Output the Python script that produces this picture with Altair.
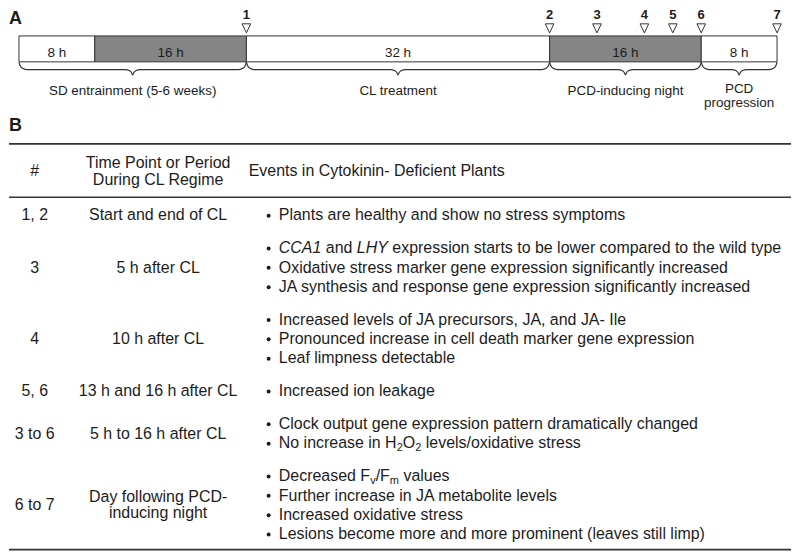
import altair as alt
import pandas as pd

# ---------------- data: panel A (timeline) ----------------
seg_hours = [8, 16, 32, 16, 8]
seg_kind = ["light", "dark", "light", "dark", "light"]
seg_labels = ["8 h", "16 h", "32 h", "16 h", "8 h"]

tp_labels = ["1", "2", "3", "4", "5", "6", "7"]
tp_hours = [24, 56, 61, 66, 69, 72, 80]

period_lines = [["SD entrainment (5-6 weeks)"], ["CL treatment"],
                ["PCD-inducing night"], ["PCD", "progression"]]
period_start = [0, 24, 56, 72]
period_end = [24, 56, 72, 80]

# ---------------- data: panel B (table) ----------------
head_id = "#"
head_period = ["Time Point or Period", "During CL Regime"]
head_events = "Events in Cytokinin- Deficient Plants"

row_ids = ["1, 2", "3", "4", "5, 6", "3 to 6", "6 to 7"]
row_periods = [["Start and end of CL"], ["5 h after CL"], ["10 h after CL"],
               ["13 h and 16 h after CL"], ["5 h to 16 h after CL"],
               ["Day following PCD-", "inducing night"]]
# each event line is a list of (text, style) ; n normal, i italic, s subscript
row_events = [
    [[("Plants are healthy and show no stress symptoms", "n")]],
    [[("CCA1", "i"), (" and ", "n"), ("LHY", "i"),
      (" expression starts to be lower compared to the wild type", "n")],
     [("Oxidative stress marker gene expression significantly increased", "n")],
     [("JA synthesis and response gene expression significantly increased", "n")]],
    [[("Increased levels of JA precursors, JA, and JA- Ile", "n")],
     [("Pronounced increase in cell death marker gene expression", "n")],
     [("Leaf limpness detectable", "n")]],
    [[("Increased ion leakage", "n")]],
    [[("Clock output gene expression pattern dramatically changed", "n")],
     [("No increase in H", "n"), ("2", "s"), ("O", "n"), ("2", "s"),
      (" levels/oxidative stress", "n")]],
    [[("Decreased F", "n"), ("v", "s"), ("/F", "n"), ("m", "s"), (" values", "n")],
     [("Further increase in JA metabolite levels", "n")],
     [("Increased oxidative stress", "n")],
     [("Lesions become more and more prominent (leaves still limp)", "n")]],
]

# ---------------- style / layout ----------------
FONT = "Liberation Sans"
INK = "#1c1c1c"
LINE = "#333333"
DARK = "#858585"
FS = 16          # table font size
FS_SUB = 11
FS_A = 13.5      # timeline font size

PAGE_L, PAGE_R = 8, 792
PX_PER_H = 9.5
X0 = 18
TOP_H = 100
BOT_TOP = 8 + TOP_H
BOT_H = 442

hx = alt.Scale(domain=[(PAGE_L - X0) / PX_PER_H, (PAGE_R - X0) / PX_PER_H], range=[0, PAGE_R - PAGE_L])
ty = alt.Scale(domain=[8, 8 + TOP_H], range=[0, TOP_H])
px = alt.Scale(domain=[PAGE_L, PAGE_R], range=[0, PAGE_R - PAGE_L])
by = alt.Scale(domain=[BOT_TOP, BOT_TOP + BOT_H], range=[0, BOT_H])

# Liberation Sans / Arial advance widths (1/1000 em)
WID = {' ': 278, 'a': 556, 'b': 556, 'c': 500, 'd': 556, 'e': 556, 'f': 278, 'g': 556,
       'h': 556, 'i': 222, 'j': 222, 'k': 500, 'l': 222, 'm': 833, 'n': 556, 'o': 556,
       'p': 556, 'q': 556, 'r': 333, 's': 500, 't': 278, 'u': 556, 'v': 500, 'w': 722,
       'x': 500, 'y': 500, 'z': 500, 'A': 667, 'B': 667, 'C': 722, 'D': 722, 'E': 667,
       'F': 611, 'G': 778, 'H': 722, 'I': 278, 'J': 500, 'K': 667, 'L': 556, 'M': 833,
       'N': 722, 'O': 778, 'P': 667, 'Q': 778, 'R': 722, 'S': 667, 'T': 611, 'U': 722,
       'V': 667, 'W': 944, 'X': 667, 'Y': 667, 'Z': 611, '/': 278, '-': 333, ',': 278,
       '.': 278, '(': 333, ')': 333}


def tw(s, fs):
    return sum(WID.get(c, 556) for c in s) * fs / 1000.0


# ---------------- panel A ----------------
starts = [sum(seg_hours[:k]) for k in range(len(seg_hours))]
seg_df = pd.DataFrame({
    "start": starts,
    "end": [s + h for s, h in zip(starts, seg_hours)],
    "kind": seg_kind,
    "label": seg_labels,
})
seg_df["mid"] = (seg_df["start"] + seg_df["end"]) / 2
seg_df["top"] = 33.3
seg_df["bot"] = 59.3
seg_df["ly"] = 54.0

tp_df = pd.DataFrame({"h": tp_hours, "label": tp_labels})
tp_df["ty"] = 25.5
tp_df["ny"] = 16.7

# braces
end_tpl = [(0, 59.5), (1.2, 63.2), (3.5, 65.8), (7.5, 67.0)]
tip_tpl = [(7.5, 67.0), (3.5, 68.0), (1.2, 70.0), (0, 72.5)]
brace_rows = []
for b, (a, e) in enumerate(zip(period_start, period_end)):
    c = (a + e) / 2
    pts = [(a + d / PX_PER_H, y) for d, y in end_tpl]
    pts += [(c - d / PX_PER_H, y) for d, y in tip_tpl]
    pts += [(c + d / PX_PER_H, y) for d, y in reversed(tip_tpl)][1:]
    pts += [(e - d / PX_PER_H, y) for d, y in reversed(end_tpl)]
    for i, (x, y) in enumerate(pts):
        brace_rows.append({"b": b, "i": i, "x": x, "y": y})
brace_df = pd.DataFrame(brace_rows)

plab_rows = []
for lines, a, e in zip(period_lines, period_start, period_end):
    if len(lines) == 1:
        ys = [92.5]
    else:
        ys = [91.0, 105.0]
    for t, y in zip(lines, ys):
        plab_rows.append({"x": (a + e) / 2, "y": y, "t": t})
plab_df = pd.DataFrame(plab_rows)

rects = alt.Chart(seg_df).mark_rect(stroke=LINE, strokeWidth=1).encode(
    x=alt.X("start:Q", scale=hx, axis=None), x2="end:Q",
    y=alt.Y("top:Q", scale=ty, axis=None), y2="bot:Q",
    fill=alt.Fill("kind:N", scale=alt.Scale(domain=["light", "dark"], range=["white", DARK]), legend=None),
)
seg_text = alt.Chart(seg_df).mark_text(font=FONT, fontSize=FS_A, color=INK, baseline="alphabetic").encode(
    x=alt.X("mid:Q", scale=hx, axis=None), y=alt.Y("ly:Q", scale=ty, axis=None), text="label:N")
tri = alt.Chart(tp_df).mark_point(shape="M-1,-1L1,-1L0,1.1Z", size=75, fill="white", fillOpacity=1,
                                  stroke=LINE, strokeWidth=1, opacity=1).encode(
    x=alt.X("h:Q", scale=hx, axis=None), y=alt.Y("ty:Q", scale=ty, axis=None))
nums = alt.Chart(tp_df).mark_text(font=FONT, fontSize=13, fontWeight="bold", color=INK, baseline="alphabetic").encode(
    x=alt.X("h:Q", scale=hx, axis=None), y=alt.Y("ny:Q", scale=ty, axis=None), text="label:N")
braces = alt.Chart(brace_df).mark_line(stroke=LINE, strokeWidth=1.2, interpolate="monotone").encode(
    x=alt.X("x:Q", scale=hx, axis=None), y=alt.Y("y:Q", scale=ty, axis=None),
    detail="b:N", order="i:Q")
plabs = alt.Chart(plab_df).mark_text(font=FONT, fontSize=FS_A, color=INK, baseline="alphabetic").encode(
    x=alt.X("x:Q", scale=hx, axis=None), y=alt.Y("y:Q", scale=ty, axis=None), text="t:N")
labA = alt.Chart(pd.DataFrame({"t": ["A"], "y": [21.3]})).mark_text(
    font=FONT, fontSize=18, fontWeight="bold", color=INK, align="left", baseline="alphabetic").encode(
    x=alt.value(0), y=alt.Y("y:Q", scale=ty, axis=None), text="t:N")

top = alt.layer(rects, braces, tri, nums, seg_text, plabs, labA).properties(width=PAGE_R - PAGE_L, height=TOP_H)

# ---------------- panel B ----------------
X_ID, X_PER, X_BUL, X_EV, X_HEAD_EV = 33.8, 157.5, 268.3, 278.5, 248.3
Y_FIRST, LH, GAP = 218.3, 19.4, 32.9

ctext, ltext, segs, bullets = [], [], [], []
# header
ctext.append({"x": X_ID, "y": 173.5, "t": head_id})
ctext.append({"x": X_PER, "y": 166.0, "t": head_period[0]})
ctext.append({"x": X_PER, "y": 182.5, "t": head_period[1]})
ltext.append({"x": X_HEAD_EV, "y": 173.5, "t": head_events})

y = Y_FIRST
for rid, per, evs in zip(row_ids, row_periods, row_events):
    ys = [y + k * LH for k in range(len(evs))]
    mid = sum(ys) / len(ys)
    ctext.append({"x": X_ID, "y": mid, "t": rid})
    if len(per) == 1:
        ctext.append({"x": X_PER, "y": mid, "t": per[0]})
    else:
        ctext.append({"x": X_PER, "y": mid - 8, "t": per[0]})
        ctext.append({"x": X_PER, "y": mid + 8, "t": per[1]})
    for line, yl in zip(evs, ys):
        bullets.append({"x": X_BUL, "y": yl - 4.8})
        xx = X_EV
        for text, st in line:
            fs = FS_SUB if st == "s" else FS
            lead = len(text) - len(text.lstrip(" "))
            xx += tw(" " * lead, fs)
            body = text.strip(" ")
            segs.append({"x": xx, "y": yl, "t": body, "st": st})
            xx += tw(text[lead:], fs)
    y = ys[-1] + GAP

ctext_df = pd.DataFrame(ctext)
ltext_df = pd.DataFrame(ltext)
seg_tdf = pd.DataFrame(segs)
bul_df = pd.DataFrame(bullets)
rule_df = pd.DataFrame({"y": [141.5, 195.0, 548.3], "x1": [PAGE_L] * 3, "x2": [PAGE_R] * 3})

tbase = dict(font=FONT, fontSize=FS, color=INK, baseline="alphabetic")
t_center = alt.Chart(ctext_df).mark_text(align="center", **tbase).encode(
    x=alt.X("x:Q", scale=px, axis=None), y=alt.Y("y:Q", scale=by, axis=None), text="t:N")
t_left = alt.Chart(ltext_df).mark_text(align="left", **tbase).encode(
    x=alt.X("x:Q", scale=px, axis=None), y=alt.Y("y:Q", scale=by, axis=None), text="t:N")
t_norm = alt.Chart(seg_tdf).transform_filter("datum.st == 'n'").mark_text(align="left", **tbase).encode(
    x=alt.X("x:Q", scale=px, axis=None), y=alt.Y("y:Q", scale=by, axis=None), text="t:N")
t_ital = alt.Chart(seg_tdf).transform_filter("datum.st == 'i'").mark_text(align="left", fontStyle="italic", **tbase).encode(
    x=alt.X("x:Q", scale=px, axis=None), y=alt.Y("y:Q", scale=by, axis=None), text="t:N")
t_sub = alt.Chart(seg_tdf).transform_filter("datum.st == 's'").mark_text(
    align="left", font=FONT, fontSize=FS_SUB, color=INK, baseline="alphabetic", dy=2.5).encode(
    x=alt.X("x:Q", scale=px, axis=None), y=alt.Y("y:Q", scale=by, axis=None), text="t:N")
buls = alt.Chart(bul_df).mark_point(shape="circle", filled=True, size=16, color=INK, opacity=1).encode(
    x=alt.X("x:Q", scale=px, axis=None), y=alt.Y("y:Q", scale=by, axis=None))
rules = alt.Chart(rule_df).mark_rule(color=LINE, strokeWidth=1.6).encode(
    x=alt.X("x1:Q", scale=px, axis=None), x2="x2:Q", y=alt.Y("y:Q", scale=by, axis=None))
labB = alt.Chart(pd.DataFrame({"t": ["B"], "y": [128.3]})).mark_text(
    font=FONT, fontSize=18, fontWeight="bold", color=INK, align="left", baseline="alphabetic").encode(
    x=alt.value(0), y=alt.Y("y:Q", scale=by, axis=None), text="t:N")

bottom = alt.layer(rules, buls, t_center, t_left, t_norm, t_ital, t_sub, labB).properties(
    width=PAGE_R - PAGE_L, height=BOT_H)

chart = alt.vconcat(top, bottom, spacing=0).properties(padding=0, background="white").configure_view(stroke=None)
chart.save("out.html", embed_options={"renderer": "svg", "actions": False})
